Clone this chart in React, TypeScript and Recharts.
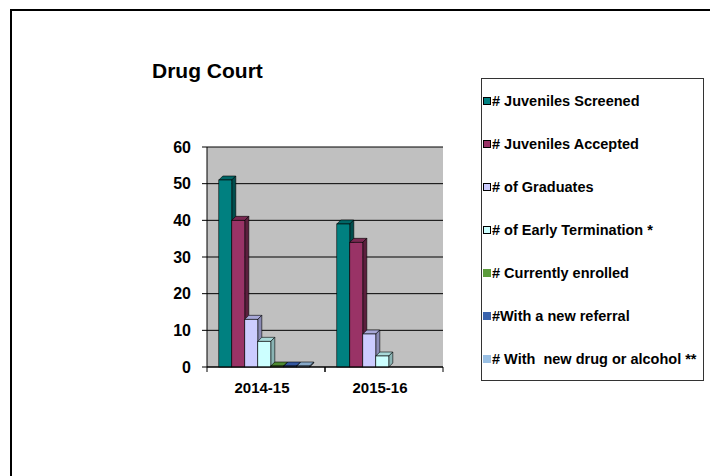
import { BarChart, Bar, XAxis, YAxis, CartesianGrid } from 'recharts';

const years = ['2014-15', '2015-16'];

const screened = [51, 39];
const accepted = [40, 34];
const graduates = [13, 9];
const earlyTermination = [7, 3];
const currentlyEnrolled = [0, null];
const newReferral = [0, null];
const newDrugAlcohol = [0, null];

const yTicks = [0, 10, 20, 30, 40, 50, 60];

const series = [
  { key: 'screened', name: '# Juveniles Screened', values: screened, fill: '#008080', side: '#004d4d', top: '#006666', boxed: true },
  { key: 'accepted', name: '# Juveniles Accepted', values: accepted, fill: '#993366', side: '#5c1f3d', top: '#7a2952', boxed: true },
  { key: 'graduates', name: '# of Graduates', values: graduates, fill: '#ccccff', side: '#8a8ab4', top: '#a8a8d8', boxed: true },
  { key: 'early', name: '# of Early Termination *', values: earlyTermination, fill: '#ccffff', side: '#8ab4b4', top: '#a8d8d8', boxed: true },
  { key: 'enrolled', name: '# Currently enrolled', values: currentlyEnrolled, fill: '#5b9b3b', side: '#3f6d29', top: '#4f8a33', boxed: false },
  { key: 'referral', name: '#With a new referral', values: newReferral, fill: '#3b64ad', side: '#294679', top: '#3458a0', boxed: false },
  { key: 'drug', name: '# With  new drug or alcohol **', values: newDrugAlcohol, fill: '#9ac0e4', side: '#6b86a0', top: '#86a8c8', boxed: false },
];

const data = years.map((year, i) => {
  const row: Record<string, any> = { year };
  series.forEach((s) => {
    row[s.key] = s.values[i];
  });
  return row;
});

const font = '"Liberation Sans", Arial, sans-serif';
const depth = 4;

function Bar3D(props: any) {
  const { x, y, width, height, fill, side, top } = props;
  if (x == null || y == null) return null;
  const h = Math.max(height, 1);
  const y0 = y + height - h;
  const d = depth;
  return (
    <g>
      <polygon
        points={`${x},${y0} ${x + d},${y0 - d} ${x + width + d},${y0 - d} ${x + width},${y0}`}
        fill={top}
        stroke="#000"
        strokeWidth={0.6}
      />
      <polygon
        points={`${x + width},${y0} ${x + width + d},${y0 - d} ${x + width + d},${y0 + h - d} ${x + width},${y0 + h}`}
        fill={side}
        stroke="#000"
        strokeWidth={0.6}
      />
      <rect x={x} y={y0} width={width} height={h} fill={fill} stroke="#000" strokeWidth={0.6} />
    </g>
  );
}

function YearTick(props: any) {
  const { x, y, payload } = props;
  const half = 59;
  return (
    <g>
      <line x1={x - half} y1={y - 8} x2={x - half} y2={y - 3} stroke="#000" />
      <line x1={x + half} y1={y - 8} x2={x + half} y2={y - 3} stroke="#000" />
      <text x={x - 4} y={y + 18} textAnchor="middle" fontFamily={font} fontWeight="bold" fontSize={15} fill="#000">
        {payload.value}
      </text>
    </g>
  );
}

export default function App() {
  return (
    <div style={{ position: 'absolute', left: 0, top: 0, width: 710, height: 476, background: '#fff', fontFamily: font }}>
      <div style={{ position: 'absolute', left: 10, top: 9, width: 700, height: 2, background: '#000' }} />
      <div style={{ position: 'absolute', left: 10, top: 9, width: 2, height: 467, background: '#000' }} />
      <div
        style={{
          position: 'absolute',
          left: 152,
          top: 60,
          fontSize: 21,
          lineHeight: '21px',
          fontWeight: 'bold',
          color: '#000',
        }}
      >
        Drug Court
      </div>

      <div style={{ position: 'absolute', left: 0, top: 0 }}>
        <BarChart
          width={710}
          height={476}
          data={data}
          margin={{ top: 147, right: 267, left: 167, bottom: 79 }}
          barCategoryGap="10%"
          barGap={0}
        >
          <CartesianGrid vertical={false} stroke="#000" strokeOpacity={1} fill="#c0c0c0" fillOpacity={1} />
          <XAxis
            dataKey="year"
            height={30}
            tickLine={false}
            axisLine={{ stroke: '#000' }}
            tick={<YearTick />}
            interval={0}
          />
          <YAxis
            width={40}
            domain={[0, 60]}
            ticks={yTicks}
            interval={0}
            tickSize={5}
            tickMargin={11}
            axisLine={{ stroke: '#000' }}
            tickLine={{ stroke: '#000' }}
            tick={{ fill: '#000', fontFamily: font, fontWeight: 'bold', fontSize: 16 }}
          />
          {series.map((s) => (
            <Bar
              key={s.key}
              dataKey={s.key}
              name={s.name}
              fill={s.fill}
              isAnimationActive={false}
              shape={(p: any) => <Bar3D {...p} fill={s.fill} side={s.side} top={s.top} />}
            />
          ))}
        </BarChart>
      </div>

      <div
        style={{
          position: 'absolute',
          left: 481,
          top: 78,
          width: 221,
          height: 301,
          border: '1px solid #333',
          background: '#fff',
        }}
      >
        {series.map((s, i) => (
          <div
            key={s.key}
            style={{
              position: 'absolute',
              left: 1,
              top: 22 + i * 43 - 9,
              height: 18,
              lineHeight: '18px',
              whiteSpace: 'pre',
              fontSize: 14.5,
              fontWeight: 'bold',
              color: '#000',
              display: 'flex',
              alignItems: 'center',
            }}
          >
            <span
              style={{
                display: 'inline-block',
                width: s.boxed ? 6 : 8,
                height: s.boxed ? 6 : 8,
                background: s.fill,
                border: s.boxed ? '1px solid #000' : 'none',
                marginRight: 1,
              }}
            />
            {s.name}
          </div>
        ))}
      </div>
    </div>
  );
}
